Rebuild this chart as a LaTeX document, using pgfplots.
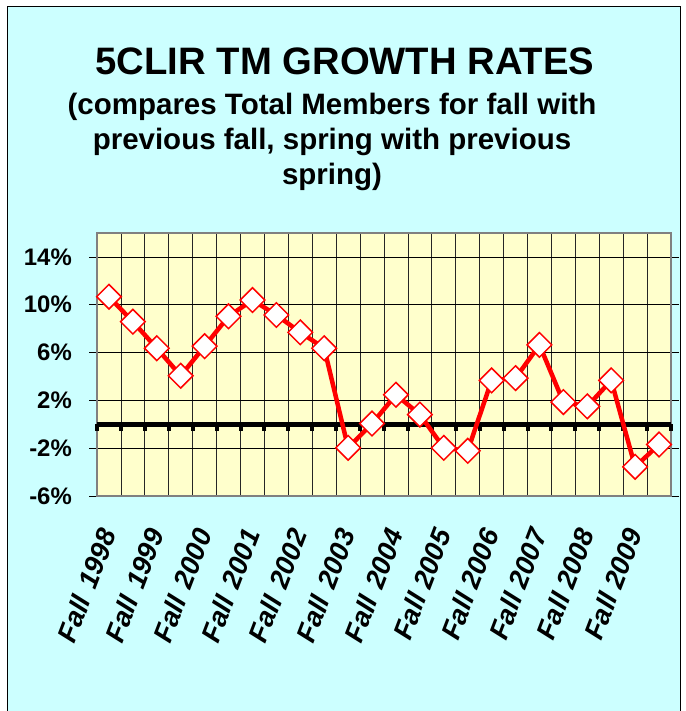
\documentclass[border=0pt]{standalone}
\usepackage{pgfplots}
\pgfplotsset{compat=1.18}
\usepackage{fontspec}
\setmainfont{Liberation Sans}
\definecolor{bgcyan}{RGB}{204,255,255}
\definecolor{plotyellow}{RGB}{255,255,204}
\definecolor{axgray}{RGB}{128,128,128}
\begin{document}
\begin{tikzpicture}
\useasboundingbox (0bp,0bp) rectangle (686bp,711bp);
\fill[white] (0bp,0bp) rectangle (686bp,711bp);
\fill[bgcyan] (7bp,0bp) rectangle (680bp,704bp);
\draw[black, line width=1bp] (7bp,-2bp) -- (7bp,704bp) -- (680bp,704bp) -- (680bp,-2bp);
\node[anchor=base, inner sep=0pt, font=\bfseries\fontsize{38.4}{40}\selectfont] at (345bp,636bp) {5CLIR TM GROWTH RATES};
\node[anchor=base, inner sep=0pt, font=\bfseries\fontsize{29.6}{30}\selectfont] at (332bp,596bp) {(compares Total Members for fall with};
\node[anchor=base, inner sep=0pt, font=\bfseries\fontsize{29.6}{30}\selectfont] at (332bp,561bp) {previous fall, spring with previous};
\node[anchor=base, inner sep=0pt, font=\bfseries\fontsize{29.6}{30}\selectfont] at (332bp,526bp) {spring)};
\begin{axis}[
  at={(97bp,215bp)}, anchor=south west,
  scale only axis, width=574bp, height=263bp,
  xmin=0.5, xmax=24.5, ymin=-6, ymax=16,
  clip=false,
  axis background/.style={fill=plotyellow},
  axis line style={axgray, line width=1.5bp},
  ytick={-6,-2,2,6,10,14},
  yticklabels={-6\%,-2\%,2\%,6\%,10\%,14\%},
  ymajorgrids,
  major grid style={black, line width=0.7bp},
  minor xtick={1.5,2.5,...,23.5},
  xminorgrids,
  minor grid style={black!85, line width=0.7bp},
  minor tick length=0pt,
  tick align=outside,
  major tick length=8bp,
  ytick style={black, line width=0.8bp},
  xtick style={draw=none},
  xtick={1,3,...,23},
  xticklabels={Fall\hspace{0.38em}1998,Fall\hspace{0.38em}1999,Fall\hspace{0.38em}2000,Fall\hspace{0.38em}2001,Fall\hspace{0.38em}2002,Fall\hspace{0.38em}2003,Fall\hspace{0.38em}2004,Fall 2005,Fall 2006,Fall 2007,Fall 2008,Fall 2009},
  yticklabel style={font=\bfseries\fontsize{24}{25}\selectfont, anchor=east, inner sep=0pt, xshift=-17bp},
  xticklabel style={font=\bfseries\itshape\fontsize{27.5}{28}\selectfont, inner sep=0pt, yshift=-26bp, xshift=-1bp, rotate=69, anchor=east},
]
\addplot[black, line width=4.5bp] coordinates {(0.5,0) (24.5,0)};
\addplot[ycomb, black, line width=4bp] coordinates {
(0.5,-0.6) (1.5,-0.6) (2.5,-0.6) (3.5,-0.6) (4.5,-0.6) (5.5,-0.6) (6.5,-0.6) (7.5,-0.6) (8.5,-0.6) (9.5,-0.6) (10.5,-0.6) (11.5,-0.6) (12.5,-0.6) (13.5,-0.6) (14.5,-0.6) (15.5,-0.6) (16.5,-0.6) (17.5,-0.6) (18.5,-0.6) (19.5,-0.6) (20.5,-0.6) (21.5,-0.6) (22.5,-0.6) (23.5,-0.6) (24.5,-0.6)};
\addplot[red, line width=4.5bp, mark=square*, mark size=8.7bp,
  mark options={fill=white, draw=red, line width=1.5bp, rotate=45, solid}] coordinates {
(1,10.67) (2,8.58) (3,6.36) (4,4.06) (5,6.53) (6,9.03) (7,10.39) (8,9.14)
(9,7.69) (10,6.36) (11,-1.97) (12,0.06) (13,2.47) (14,0.81) (15,-1.97) (16,-2.22)
(17,3.67) (18,3.86) (19,6.64) (20,1.86) (21,1.50) (22,3.67) (23,-3.56) (24,-1.69)};
\end{axis}
\end{tikzpicture}
\end{document}
